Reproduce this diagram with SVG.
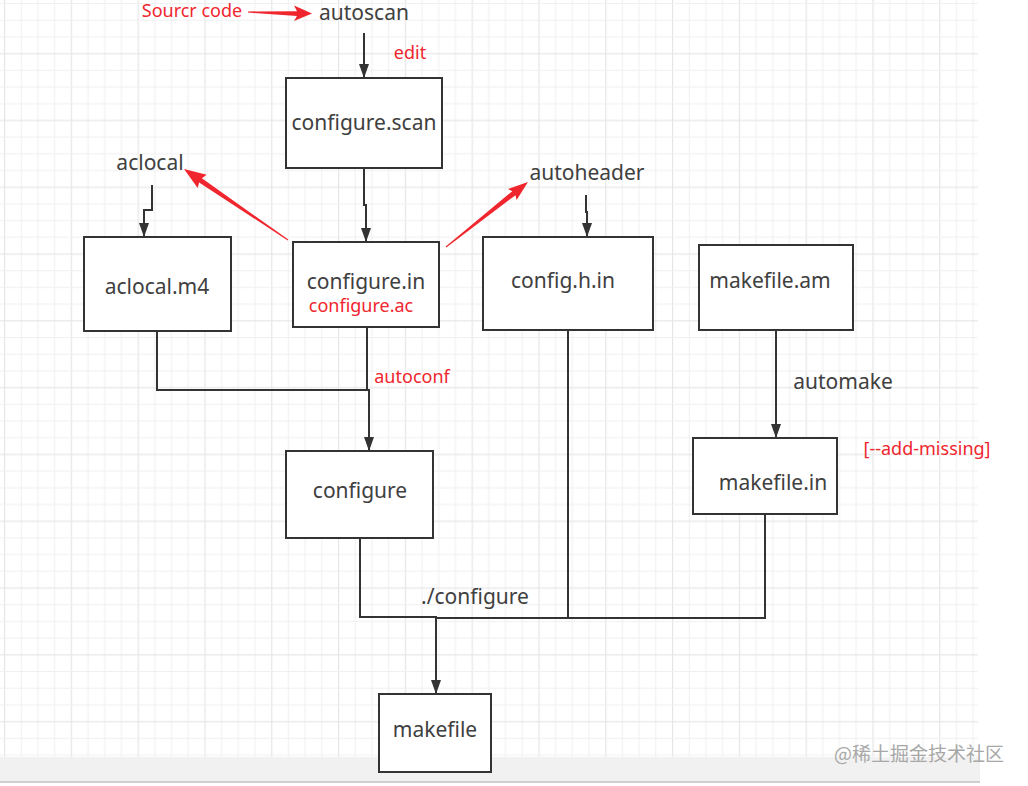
<svg xmlns="http://www.w3.org/2000/svg" width="1028" height="786" viewBox="0 0 1028 786">
<defs>
<pattern id="gridv" patternUnits="userSpaceOnUse" x="4" y="0" width="66.8" height="10">
<rect x="0" y="0" width="1.2" height="10" fill="#e6e6e6"/>
<rect x="16.7" y="0" width="1" height="10" fill="#f0f0f0"/>
<rect x="33.4" y="0" width="1" height="10" fill="#f0f0f0"/>
<rect x="50.1" y="0" width="1" height="10" fill="#f0f0f0"/>
</pattern>
<pattern id="gridh" patternUnits="userSpaceOnUse" x="0" y="3" width="10" height="66.8">
<rect x="0" y="0" width="10" height="1" fill="#f0f0f0"/>
<rect x="0" y="16.7" width="10" height="1" fill="#f0f0f0"/>
<rect x="0" y="33.4" width="10" height="1" fill="#f0f0f0"/>
<rect x="0" y="50.1" width="10" height="1.2" fill="#e6e6e6"/>
</pattern>
<marker id="ad" viewBox="0 0 14 10" refX="13" refY="5" markerWidth="14" markerHeight="10" markerUnits="userSpaceOnUse" orient="auto">
<path d="M0,0 L14,5 L0,10 Z" fill="#333"/>
</marker>
</defs>
<style>
.box{fill:#fff;stroke:#333;stroke-width:2}
.t{font-family:"Noto Sans","DejaVu Sans",sans-serif;font-size:21px;fill:#404040;text-anchor:middle}
.r{font-family:"Noto Sans","DejaVu Sans",sans-serif;font-size:18px;fill:#f0262e;text-anchor:middle}
.c{fill:none;stroke:#333;stroke-width:2}
.ra{fill:#f0262e}
</style>
<rect width="1028" height="786" fill="#fff"/>
<rect x="0" y="0" width="978" height="757" fill="url(#gridv)"/>
<rect x="0" y="0" width="978" height="757" fill="url(#gridh)"/>
<rect x="0" y="757" width="980" height="24" fill="#f1f1f1"/>
<rect x="0" y="781" width="980" height="2" fill="#cfcfcf"/>

<g id="connectors">
<path class="c" d="M364,33 V77" marker-end="url(#ad)"/>
<path class="c" d="M364,168 V205 H366 V241" marker-end="url(#ad)"/>
<path class="c" d="M152,185 V210 H144 V236" marker-end="url(#ad)"/>
<path class="c" d="M586,195 V212 H587 V236" marker-end="url(#ad)"/>
<path class="c" d="M157,331 V390 H369 V450" marker-end="url(#ad)"/>
<path class="c" d="M367,327 V390"/>
<path class="c" d="M776,330 V437" marker-end="url(#ad)"/>
<path class="c" d="M360,538 V617 H436 V693" marker-end="url(#ad)"/>
<path class="c" d="M436,618 H765 V514"/>
<path class="c" d="M568,330 V618"/>
<polygon class="ra" points="248,11.4 297,11.2 294,5.5 312,13.5 294,21 297,16 248,12.6"/>
<polygon class="ra" points="288.3,239.6 201.9,178.2 206.7,174.8 184,169 197.7,188 199.1,182.4 287.7,240.4"/>
<polygon class="ra" points="445.7,246.6 512.3,191.2 508,188.9 528,182 516.6,199.9 515.5,195.2 446.3,247.4"/>
</g>

<g id="n-autoscan"><text class="t" x="364" y="20">autoscan</text></g>
<g id="l-source"><text class="r" x="192" y="17">Sourcr code</text></g>
<g id="l-edit"><text class="r" x="410" y="59">edit</text></g>
<g id="n-configure-scan"><rect class="box" x="286" y="78" width="156" height="90"/><text class="t" x="364" y="130">configure.scan</text></g>
<g id="n-aclocal"><text class="t" x="150" y="170">aclocal</text></g>
<g id="n-autoheader"><text class="t" x="587" y="180">autoheader</text></g>
<g id="n-aclocal-m4"><rect class="box" x="84" y="237" width="147" height="94"/><text class="t" x="157" y="294">aclocal.m4</text></g>
<g id="n-configure-in"><rect class="box" x="293" y="242" width="146" height="85"/><text class="t" x="366" y="289">configure.in</text><text class="r" x="361" y="312">configure.ac</text></g>
<g id="n-config-h-in"><rect class="box" x="483" y="237" width="170" height="93"/><text class="t" x="563" y="288">config.h.in</text></g>
<g id="n-makefile-am"><rect class="box" x="699" y="245" width="154" height="85"/><text class="t" x="770" y="288">makefile.am</text></g>
<g id="l-autoconf"><text class="r" x="412" y="383">autoconf</text></g>
<g id="l-automake"><text class="t" x="843" y="389">automake</text></g>
<g id="l-addmissing"><text class="r" x="927" y="455">[--add-missing]</text></g>
<g id="n-configure"><rect class="box" x="286" y="451" width="147" height="87"/><text class="t" x="360" y="498">configure</text></g>
<g id="n-makefile-in"><rect class="box" x="693" y="438" width="144" height="76"/><text class="t" x="773" y="490">makefile.in</text></g>
<g id="l-dotconfigure"><text class="t" x="475" y="604">./configure</text></g>
<g id="n-makefile"><rect class="box" x="379" y="694" width="112" height="78"/><text class="t" x="435" y="737">makefile</text></g>
<g id="watermark"><text x="1004" y="761" font-family="'Noto Sans CJK SC',sans-serif" font-size="19" fill="#a8a8a8" text-anchor="end">@稀土掘金技术社区</text></g>
</svg>
